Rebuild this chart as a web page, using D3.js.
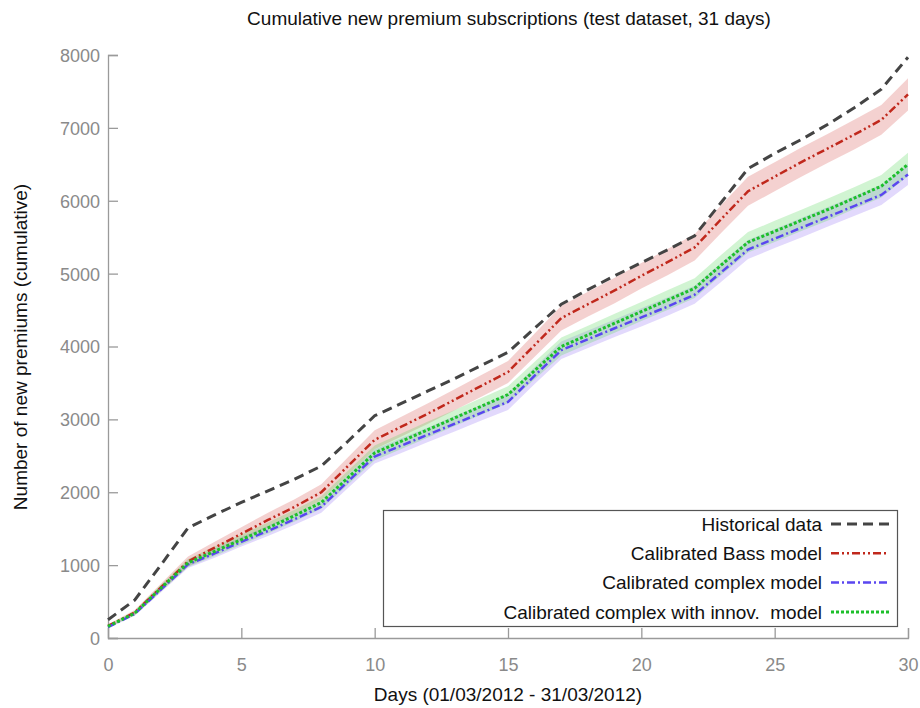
<!DOCTYPE html>
<html>
<head>
<meta charset="utf-8">
<script src="https://cdn.jsdelivr.net/npm/d3@7"></script>
<style>
  body { margin: 0; background: #fff; }
  text { font-family: "Liberation Sans", Arial, sans-serif; white-space: pre; }
</style>
</head>
<body>
<svg id="chart" width="920" height="708"></svg>
<script>
// Data: day index, cumulative values per series, band half-widths
var days = d3.range(0, 31);

var historical = [250, 520, 1010, 1510, 1690, 1860, 2020, 2180, 2360, 2700, 3050,
  3220, 3390, 3560, 3740, 3920, 4250, 4580, 4780, 4970, 5150,
  5330, 5520, 5980, 6440, 6650, 6840, 7050, 7280, 7530, 7970];

var bass = [165, 350, 700, 1050, 1240, 1430, 1620, 1800, 2000, 2360, 2720,
  2900, 3080, 3270, 3460, 3650, 4020, 4390, 4580, 4770, 4970,
  5160, 5360, 5750, 6130, 6330, 6530, 6720, 6910, 7110, 7460];

var complex = [150, 330, 670, 1010, 1160, 1320, 1470, 1630, 1800, 2150, 2490,
  2640, 2790, 2940, 3090, 3240, 3600, 3950, 4100, 4250, 4400,
  4550, 4710, 5020, 5330, 5480, 5630, 5780, 5930, 6080, 6360];

var innov = [160, 340, 690, 1030, 1190, 1350, 1510, 1680, 1860, 2200, 2540,
  2700, 2860, 3020, 3180, 3340, 3670, 4000, 4160, 4320, 4480,
  4640, 4800, 5120, 5430, 5580, 5730, 5880, 6040, 6200, 6500];

// Half-width of the shaded bands around each model
var bassSpread = [20, 35, 50, 70, 80, 90, 100, 105, 110, 120, 130,
  135, 140, 145, 150, 150, 160, 170, 170, 175, 175,
  180, 180, 190, 200, 200, 200, 200, 205, 205, 220];

var complexSpread = [15, 25, 40, 50, 60, 65, 70, 75, 80, 90, 95,
  100, 100, 105, 105, 110, 115, 120, 120, 120, 125,
  125, 125, 130, 130, 130, 135, 135, 135, 140, 145];

var innovSpread = [15, 30, 45, 55, 65, 70, 75, 80, 85, 95, 100,
  105, 110, 110, 115, 115, 120, 125, 125, 130, 130,
  135, 135, 140, 140, 145, 145, 150, 150, 155, 160];

var xTicks = [0, 5, 10, 15, 20, 25, 30];
var yTicks = [0, 1000, 2000, 3000, 4000, 5000, 6000, 7000, 8000];

var seriesNames = ["Historical data", "Calibrated Bass model",
  "Calibrated complex model", "Calibrated complex with innov.  model"];

/**
 * Styles for each row, same order as seriesNames.
 */
var styles = [
  { color: "#444444", width: 3, dash: "10,6" },
  { color: "#c0281c", width: 2.5, dash: "8,3,2,3,2,3" },
  { color: "#5a46f0", width: 2.5, dash: "8,3,2,3" },
  { color: "#1cbf2a", width: 3, dash: "3,2" }
];

var svg = d3.select("#chart");

var x = d3.scaleLinear().domain([0, 30]).range([108, 908]);
var y = d3.scaleLinear().domain([0, 8000]).range([638, 55]);

// bands
function band(values, spread, fill) {
  var area = d3.area()
    .x(function(d, i) { return x(days[i]); })
    .y0(function(d, i) { return y(values[i] - spread[i]); })
    .y1(function(d, i) { return y(values[i] + spread[i]); });
  svg.append("path")
    .datum(values)
    .attr("d", area)
    .attr("fill", fill)
    .attr("fill-opacity", 0.28);
}
band(bass, bassSpread, "rgb(215,90,85)");
band(complex, complexSpread, "rgb(150,120,245)");
band(innov, innovSpread, "rgb(90,215,95)");

// axes
var axisColor = "#9a9a9a";
var xAxis = svg.append("g")
  .attr("transform", "translate(0," + y(0) + ")")
  .call(d3.axisBottom(x).tickValues(xTicks).tickSize(-10).tickPadding(20));
var yAxis = svg.append("g")
  .attr("transform", "translate(" + x(0) + ",0)")
  .call(d3.axisLeft(y).tickValues(yTicks).tickFormat(d3.format("d"))
    .tickSize(-10).tickPadding(8));

[xAxis, yAxis].forEach(function(a) {
  a.select(".domain").attr("stroke", axisColor).attr("stroke-width", 1.3);
  a.selectAll(".tick line").attr("stroke", axisColor).attr("stroke-width", 1.3);
  a.selectAll(".tick text")
    .attr("fill", "#8a8a8a")
    .attr("font-size", 18)
    .attr("font-family", "Liberation Sans, Arial, sans-serif");
});
yAxis.selectAll(".tick text").attr("dy", "0.36em");

// lines
var rows = [historical, bass, complex, innov];
var line = d3.line()
  .x(function(d, i) { return x(days[i]); })
  .y(function(d) { return y(d); });

rows.forEach(function(r, k) {
  svg.append("path")
    .datum(r)
    .attr("d", line)
    .attr("fill", "none")
    .attr("stroke", styles[k].color)
    .attr("stroke-width", styles[k].width)
    .attr("stroke-dasharray", styles[k].dash);
});

// legend
var legend = svg.append("g");
legend.append("rect")
  .attr("x", 383.5).attr("y", 510.5)
  .attr("width", 514).attr("height", 116)
  .attr("fill", "#fff")
  .attr("stroke", "#555")
  .attr("stroke-width", 1.2);

seriesNames.forEach(function(name, k) {
  var ly = 524 + k * 29.3;
  legend.append("text")
    .attr("x", 822).attr("y", ly)
    .attr("dy", "0.35em")
    .attr("text-anchor", "end")
    .attr("font-size", 19)
    .attr("fill", "#111")
    .text(name);
  legend.append("line")
    .attr("x1", 831).attr("x2", 889)
    .attr("y1", ly).attr("y2", ly)
    .attr("stroke", styles[k].color)
    .attr("stroke-width", styles[k].width)
    .attr("stroke-dasharray", styles[k].dash);
});

// titles
svg.append("text")
  .attr("x", 509).attr("y", 25)
  .attr("text-anchor", "middle")
  .attr("font-size", 19)
  .attr("fill", "#111")
  .text("Cumulative new premium subscriptions (test dataset, 31 days)");

svg.append("text")
  .attr("x", 508).attr("y", 701)
  .attr("text-anchor", "middle")
  .attr("font-size", 19)
  .attr("fill", "#111")
  .text("Days (01/03/2012 - 31/03/2012)");

svg.append("text")
  .attr("transform", "translate(27,347) rotate(-90)")
  .attr("text-anchor", "middle")
  .attr("font-size", 19)
  .attr("fill", "#111")
  .text("Number of new premiums (cumulative)");
</script>
</body>
</html>
